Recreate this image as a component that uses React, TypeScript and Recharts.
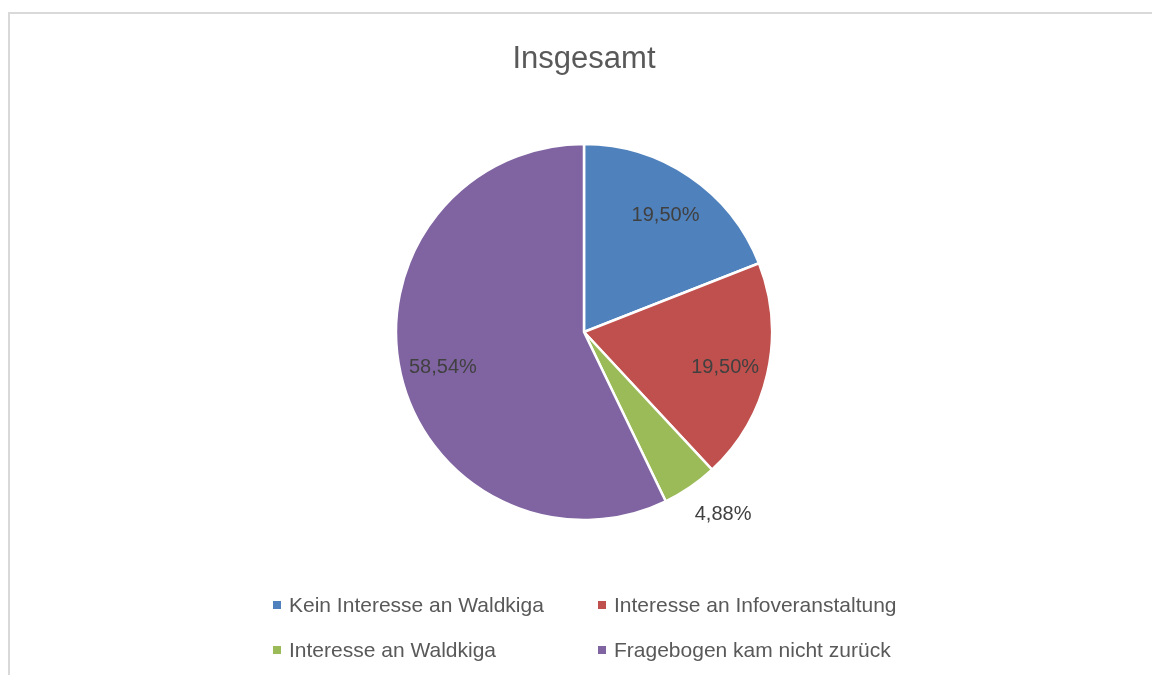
import React from "react";
import { PieChart, Pie, Cell, Legend } from "recharts";

const categories = [
  "Kein Interesse an Waldkiga",
  "Interesse an Infoveranstaltung",
  "Interesse an Waldkiga",
  "Fragebogen kam nicht zurück",
];
const values = [19.5, 19.5, 4.88, 58.54];
const colors = ["#4f81bd", "#c0504d", "#9bbb59", "#8064a2"];
const title = "Insgesamt";

const data = categories.map((name, i) => ({ name, value: values[i] }));

const FONT = "'Liberation Sans', Arial, sans-serif";
const RAD = Math.PI / 180;

const renderLabel = (p: any) => {
  const { cx, cy, midAngle, outerRadius, value, percent } = p;
  const outside = percent < 0.1;
  const r = outside ? outerRadius + 26 : outerRadius * 0.77;
  const x = cx + r * Math.cos(-midAngle * RAD) - (outside ? 10 : 0);
  const y = cy + r * Math.sin(-midAngle * RAD) + (outside ? 4 : 2);
  return (
    <text
      x={x}
      y={y}
      textAnchor={outside ? "start" : "middle"}
      dominantBaseline="central"
      fill="#404040"
      fontSize={20}
      fontFamily={FONT}
    >
      {value.toFixed(2).replace(".", ",") + "%"}
    </text>
  );
};

const renderLegend = () => (
  <div
    style={{
      display: "grid",
      gridTemplateColumns: "325px 300px",
      rowGap: 19,
      marginLeft: 265,
      fontFamily: FONT,
      fontSize: 21,
      color: "#595959",
    }}
  >
    {categories.map((name, i) => (
      <div key={name} style={{ display: "flex", alignItems: "center", height: 26 }}>
        <span
          style={{
            display: "inline-block",
            width: 8,
            height: 8,
            background: colors[i],
            marginRight: 8,
          }}
        />
        <span>{name}</span>
      </div>
    ))}
  </div>
);

export default function App() {
  return (
    <div style={{ position: "relative", width: 1144, height: 659, background: "#fff" }}>
      <div
        style={{
          position: "fixed",
          left: 8,
          top: 12,
          width: 1144,
          height: 663,
          borderLeft: "2px solid #d9d9d9",
          borderTop: "2px solid #d9d9d9",
          boxSizing: "border-box",
        }}
      />
      <div
        style={{
          position: "absolute",
          left: 0,
          top: 32,
          width: 1152,
          textAlign: "center",
          fontFamily: FONT,
          fontSize: 31,
          color: "#595959",
        }}
      >
        {title}
      </div>
      <div style={{ position: "absolute", left: 0, top: 0 }}>
        <PieChart width={1144} height={659}>
          <Pie
            data={data}
            dataKey="value"
            nameKey="name"
            cx={571}
            cy={319}
            outerRadius={188}
            startAngle={90}
            endAngle={-270}
            stroke="#ffffff"
            strokeWidth={2.5}
            label={renderLabel}
            labelLine={false}
            isAnimationActive={false}
          >
            {data.map((d, i) => (
              <Cell key={d.name} fill={colors[i]} />
            ))}
          </Pie>
          <Legend
            content={renderLegend}
            verticalAlign="bottom"
            wrapperStyle={{ bottom: 4, left: 0, width: 1144 }}
          />
        </PieChart>
      </div>
    </div>
  );
}
